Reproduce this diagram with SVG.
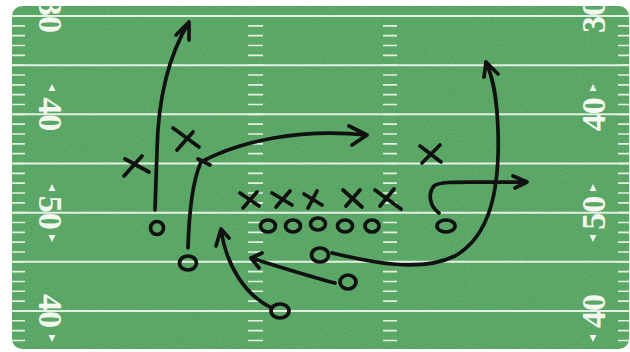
<svg xmlns="http://www.w3.org/2000/svg" width="630" height="352" viewBox="0 0 630 352">
  <defs>
    <clipPath id="fieldClip">
      <rect x="12" y="6" width="617" height="343" rx="10" ry="10"/>
    </clipPath>
    <filter id="grain" x="0" y="0" width="100%" height="100%">
      <feTurbulence type="fractalNoise" baseFrequency="0.9" numOctaves="2" seed="3" result="n"/>
      <feColorMatrix in="n" type="matrix" values="0 0 0 0 0  0 0 0 0 0.1  0 0 0 0 0  0 0 0 -1.2 0.75"/>
    </filter>
    <style>
      .turf { fill: #5fab6b; }
      .yard { stroke: #e4f1e2; stroke-width: 2; }
      .hash { stroke: #e4f1e2; stroke-dasharray: 1.6 8.233; }
      .num { font-family: "Liberation Serif", "Times New Roman", serif; font-size: 34px; font-weight: bold; fill: #f2f8f0; text-anchor: middle; }
      .tri { fill: #f2f8f0; }
      .ink { fill: none; stroke: #111; stroke-width: 3.7; stroke-linecap: round; stroke-linejoin: round; }
    </style>
  </defs>

  <rect width="630" height="352" fill="#ffffff"/>

  <!-- field surface -->
  <g id="field" clip-path="url(#fieldClip)">
    <rect class="turf" x="12" y="6" width="617" height="343"/>
    <rect x="12" y="6" width="617" height="343" filter="url(#grain)" opacity="0.25"/>

    <!-- hash columns: sidelines and inbounds -->
    <g id="hashes">
      <line class="hash" x1="18.5" y1="15.2" x2="18.5" y2="349" stroke-width="13"/>
      <line class="hash" x1="255.5" y1="15.2" x2="255.5" y2="349" stroke-width="15"/>
      <line class="hash" x1="390" y1="15.2" x2="390" y2="349" stroke-width="14"/>
      <line class="hash" x1="624" y1="15.2" x2="624" y2="349" stroke-width="12"/>
    </g>

    <!-- five-yard lines -->
    <g id="yardlines">
      <line class="yard" x1="12" y1="16" x2="629" y2="16"/>
      <line class="yard" x1="12" y1="65.2" x2="629" y2="65.2"/>
      <line class="yard" x1="12" y1="114.3" x2="629" y2="114.3"/>
      <line class="yard" x1="12" y1="163.5" x2="629" y2="163.5"/>
      <line class="yard" x1="12" y1="212.7" x2="629" y2="212.7"/>
      <line class="yard" x1="12" y1="261.8" x2="629" y2="261.8"/>
      <line class="yard" x1="12" y1="311" x2="629" y2="311"/>
    </g>

    <!-- yard numbers, left sideline -->
    <g id="numbers-left">
      <text class="num" transform="translate(39,16) rotate(90)">30</text>
      <text class="num" transform="translate(39,114.3) rotate(90)">40</text>
      <text class="num" transform="translate(39,212.7) rotate(90)">50</text>
      <text class="num" transform="translate(39,311) rotate(90)">40</text>
      <polygon class="tri" points="52,84 48.5,91 55.5,91"/>
      <polygon class="tri" points="52,184 48.5,191 55.5,191"/>
      <polygon class="tri" points="52,242 48.5,235 55.5,235"/>
      <polygon class="tri" points="52,342 48.5,335 55.5,335"/>
    </g>

    <!-- yard numbers, right sideline -->
    <g id="numbers-right">
      <text class="num" transform="translate(605,16) rotate(-90)">30</text>
      <text class="num" transform="translate(605,114.3) rotate(-90)">40</text>
      <text class="num" transform="translate(605,212.7) rotate(-90)">50</text>
      <text class="num" transform="translate(605,311) rotate(-90)">40</text>
      <polygon class="tri" points="593,84 589.5,91 596.5,91"/>
      <polygon class="tri" points="593,184 589.5,191 596.5,191"/>
      <polygon class="tri" points="593,242 589.5,235 596.5,235"/>
      <polygon class="tri" points="593,342 589.5,335 596.5,335"/>
    </g>
  </g>

  <!-- routes -->
  <g id="routes" class="ink">
    <path d="M155,210 L157,150 C158,105 167,58 189,22 M176,35 L189,22 L189,40"/>
    <path d="M188,248 C189,212 193,180 201,162 C240,141 300,128 367,135 M349,126 L367,135 L352,145"/>
    <path d="M198,159 L210,165"/>
    <path d="M272,308 C246,296 226,266 221,229 M216,246 L221,229 L229,238"/>
    <path d="M335,283 C308,276 280,267 251,258 M262,253 L251,258 L259,268"/>
    <path d="M332,253 C370,262 420,273 455,256 C490,236 500,190 498,130 C497,100 494,80 486,62 M484,77 L486,62 L498,74"/>
    <path d="M439,213 C429,206 428,193 434,186 C440,180 470,183 527,182 M513,176 L527,182 L515,188"/>
  </g>

  <!-- defense -->
  <g id="def-1" class="ink"><path d="M125,159 L149,172 M142,156 L124,176"/></g>
  <g id="def-2" class="ink"><path d="M173,128 L199,147 M193,132 L177,150"/></g>
  <g id="def-3" class="ink"><path d="M420,146 L441,162 M440,145 L422,163"/></g>
  <g id="def-4" class="ink"><path d="M240,193 L259,206 M257,192 L243,208"/></g>
  <g id="def-5" class="ink"><path d="M272,193 L292,205 M290,191 L276,207"/></g>
  <g id="def-6" class="ink"><path d="M304,194 L322,205 M317,191 L308,208"/></g>
  <g id="def-7" class="ink"><path d="M343,190 L362,207 M360,190 L346,206"/></g>
  <g id="def-8" class="ink"><path d="M375,190 L401,209 M394,189 L380,206"/></g>

  <!-- offense -->
  <g id="off-line-1" class="ink"><ellipse cx="268" cy="226" rx="7.5" ry="6"/></g>
  <g id="off-line-2" class="ink"><ellipse cx="293" cy="226" rx="7.5" ry="6"/></g>
  <g id="off-line-3" class="ink"><ellipse cx="318" cy="224" rx="7.5" ry="6"/></g>
  <g id="off-line-4" class="ink"><ellipse cx="345" cy="226" rx="7.5" ry="6"/></g>
  <g id="off-line-5" class="ink"><ellipse cx="372" cy="226" rx="7" ry="6"/></g>
  <g id="off-wide-left" class="ink"><ellipse cx="157" cy="228" rx="6.5" ry="6.5"/></g>
  <g id="off-slot-left" class="ink"><ellipse cx="188" cy="263" rx="8.5" ry="7"/></g>
  <g id="off-qb" class="ink"><ellipse cx="320" cy="255" rx="8.5" ry="7"/></g>
  <g id="off-back" class="ink"><ellipse cx="348" cy="282" rx="8" ry="7"/></g>
  <g id="off-deep-back" class="ink"><ellipse cx="280" cy="311" rx="9" ry="7"/></g>
  <g id="off-slot-right" class="ink"><ellipse cx="446" cy="226" rx="9" ry="6"/></g>
</svg>
